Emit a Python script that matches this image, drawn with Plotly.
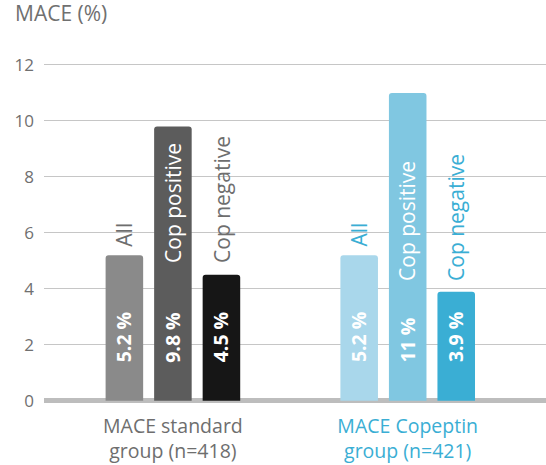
import plotly.graph_objects as go

# ---------------- data ----------------
groups = ["MACE standard group (n=418)", "MACE Copeptin group (n=421)"]
group_lines = [["MACE standard", "group (n=418)"], ["MACE Copeptin", "group (n=421)"]]
series = ["All", "Cop positive", "Cop negative"]
values_standard = [5.2, 9.8, 4.5]
values_copeptin = [5.2, 11, 3.9]
y_ticks = [0, 2, 4, 6, 8, 10, 12]
y_title = "MACE (%)"

# ---------------- styles ----------------
FONT = "Open Sans"
bar_colors = {
    0: ["#8a8a8a", "#5c5c5c", "#161616"],   # standard group
    1: ["#a9d7eb", "#80c7e1", "#3aaed4"],   # copeptin group
}
group_text_colors = ["#6e6e6e", "#3aaed4"]
axis_text = "#707070"
slot_px = 48.5          # distance between neighbouring bar centres
# anchor height (axis units) of rotated series labels, per group & series
label_base = {0: [5.45, 4.85, 4.85], 1: [5.45, 4.2, 4.2]}
label_inside = {0: [False, True, False], 1: [False, True, False]}
value_base = 1.3

values = [values_standard, values_copeptin]

fig = go.Figure()
for i, name in enumerate(series):
    fig.add_trace(go.Bar(
        x=groups,
        y=[values[0][i], values[1][i]],
        name=name,
        marker=dict(color=[bar_colors[0][i], bar_colors[1][i]], line=dict(width=0),
                    cornerradius=3),
        hoverinfo="skip",
    ))

annotations = []
for g in range(2):
    for i, name in enumerate(series):
        shift = (i - 1) * slot_px
        # value label inside bar
        annotations.append(dict(
            x=groups[g], y=value_base, xref="x", yref="y", xshift=shift,
            text="<b>%s %%</b>" % format(values[g][i], "g"),
            textangle=-90, showarrow=False, xanchor="center", yanchor="bottom",
            font=dict(family=FONT, size=19.5, color="white"),
        ))
        # series label
        col = "white" if label_inside[g][i] else group_text_colors[g]
        annotations.append(dict(
            x=groups[g], y=label_base[g][i], xref="x", yref="y", xshift=shift,
            text=name, textangle=-90, showarrow=False,
            xanchor="center", yanchor="bottom",
            font=dict(family=FONT, size=21, color=col),
        ))

ticktext = [
    '<span style="color:%s">%s<br>%s</span>' % (group_text_colors[g], group_lines[g][0], group_lines[g][1])
    for g in range(2)
]

fig.update_layout(
    width=546, height=465,
    margin=dict(l=44, r=0, t=51, b=60, pad=0, autoexpand=False),
    paper_bgcolor="white", plot_bgcolor="white",
    barmode="group", bargap=0.38, bargroupgap=0.226,
    showlegend=False,
    font=dict(family=FONT, color=axis_text),
    title=dict(text=y_title, x=15 / 546, xanchor="left", xref="container",
               y=1 - 6 / 465, yanchor="top", yref="container",
               font=dict(family=FONT, size=21, color=axis_text)),
    annotations=annotations,
    xaxis=dict(
        range=[-0.549, 1.589], showgrid=False, showline=False, zeroline=False,
        ticks="", tickmode="array", tickvals=groups, ticktext=ticktext,
        tickfont=dict(family=FONT, size=19.5, color=group_text_colors[0]),
        ticklabelstandoff=7, fixedrange=True, automargin=False,
    ),
    yaxis=dict(
        range=[-0.15, 12.5], tickmode="array", tickvals=y_ticks,
        ticktext=[str(v) for v in y_ticks],
        showgrid=True, gridcolor="#c6c6c6", gridwidth=1.4,
        zeroline=True, zerolinecolor="#bdbdbd", zerolinewidth=4.5,
        showline=False, ticks="", ticklabelstandoff=9,
        tickfont=dict(family=FONT, size=17, color=axis_text), fixedrange=True,
        automargin=False,
    ),
)

fig.write_html("out.html")
